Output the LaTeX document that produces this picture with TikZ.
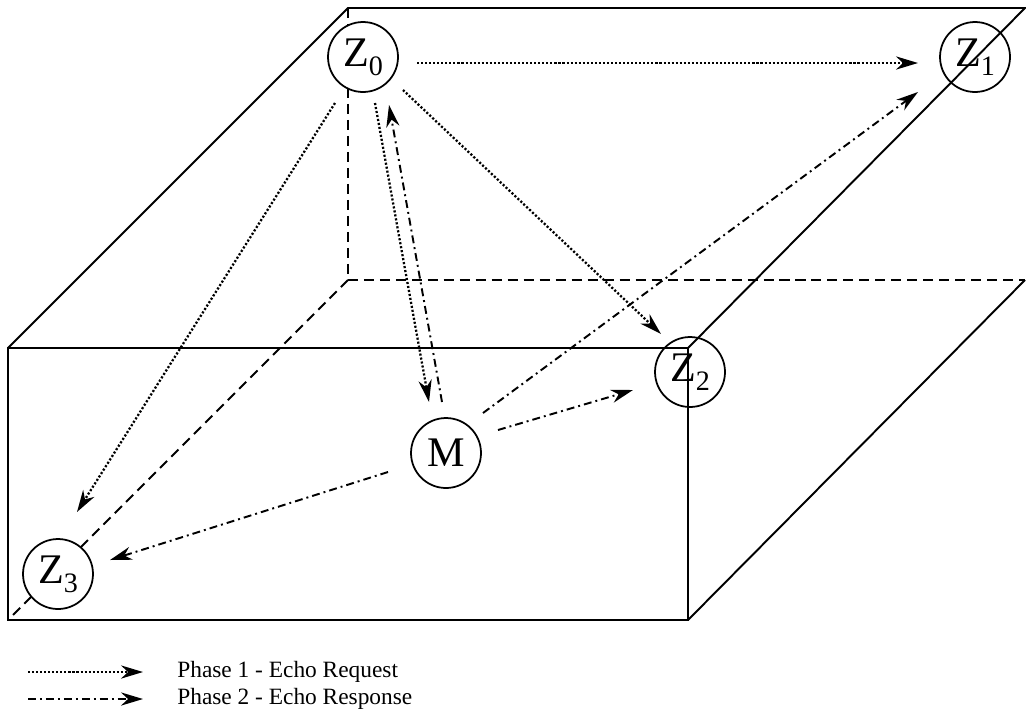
\documentclass[tikz,border=0pt]{standalone}
\usepackage{fontspec}
\setmainfont{Liberation Serif}
\usetikzlibrary{arrows.meta,calc}
\newcommand\zsub[1]{Z\raisebox{-0.45ex}{\fontsize{16}{16}\selectfont #1}}
\begin{document}
\begin{tikzpicture}[x=0.02cm,y=-0.02cm,
  boxline/.style={line width=1.1pt},
  hidden/.style={line width=1.1pt,dash pattern=on 5.7pt off 3.4pt},
  station/.style={circle,draw,line width=1pt,minimum size=1.4cm,inner sep=0pt,font=\fontsize{24}{26}\selectfont},
  tipshape/.style={-{Stealth[length=12.5pt,width=7.5pt,inset=4pt]}},
  req/.style={tipshape,line width=1.3pt,dash pattern=on 1.2pt off 1.1pt},
  resp/.style={tipshape,line width=1.1pt,dash pattern=on 4.5pt off 2.3pt on 1.1pt off 2.3pt},
  legendtext/.style={anchor=base west,inner sep=0pt,font=\fontsize{13.3}{15}\selectfont}
]
\useasboundingbox (0,0) rectangle (1026,724);
% box corners
\coordinate (FTL) at (8,348);
\coordinate (FTR) at (688,348);
\coordinate (FBL) at (8,620);
\coordinate (FBR) at (688,620);
\coordinate (BTL) at (348,8);
\coordinate (BTR) at (1025,8);
\coordinate (BBL) at (348,280);
\coordinate (BBR) at (1025,280);
% hidden edges
\draw[hidden] (BTL) -- (BBL) -- (BBR);
\draw[hidden] (BBL) -- (FBL);
% stations
\node[station,fill=white] (Z0) at (363,57) {\zsub{0}};
\node[station,fill=white] (Z3) at (58,574) {\zsub{3}};
\node[station,fill=white] (M) at (446,453) {M};
% visible edges
\draw[boxline] (FTL) rectangle (FBR);
\draw[boxline] (FTL) -- (BTL) -- (BTR) -- (FTR);
\draw[boxline] (FBR) -- (BBR);
\node[station] (Z1) at (975,57) {\zsub{1}};
\node[station] (Z2) at (690,372) {\zsub{2}};
% phase 1
\draw[req] ($(Z0)+(54,6)$) -- ($(Z1)+(-57,6)$);
\draw[req] ($(Z0)+(-28,46)$) -- ($(Z3)+(19,-62)$);
\draw[req] ($(Z0)+(12,46)$) -- ($(M)+(-17,-51)$);
\draw[req] ($(Z0)+(40,33)$) -- ($(Z2)+(-29,-38)$);
% phase 2
\draw[resp] ($(M)+(-4,-51)$) -- ($(Z0)+(26,48)$);
\draw[resp] ($(M)+(37,-40)$) -- ($(Z1)+(-57,35)$);
\draw[resp] ($(M)+(52,-23)$) -- ($(Z2)+(-57,18)$);
\draw[resp] ($(M)+(-58,19)$) -- ($(Z3)+(52,-14)$);
% legend
\coordinate (L1s) at (28,672);
\coordinate (L1e) at (143,672);
\coordinate (L2s) at (28,699);
\coordinate (L2e) at (143,699);
\draw[req] (L1s) -- (L1e);
\draw[resp] (L2s) -- (L2e);
\node[legendtext] (T1) at (177,677) {Phase 1 - Echo Request};
\node[legendtext] (T2) at (177,704) {Phase 2 - Echo Response};
\end{tikzpicture}
\end{document}
